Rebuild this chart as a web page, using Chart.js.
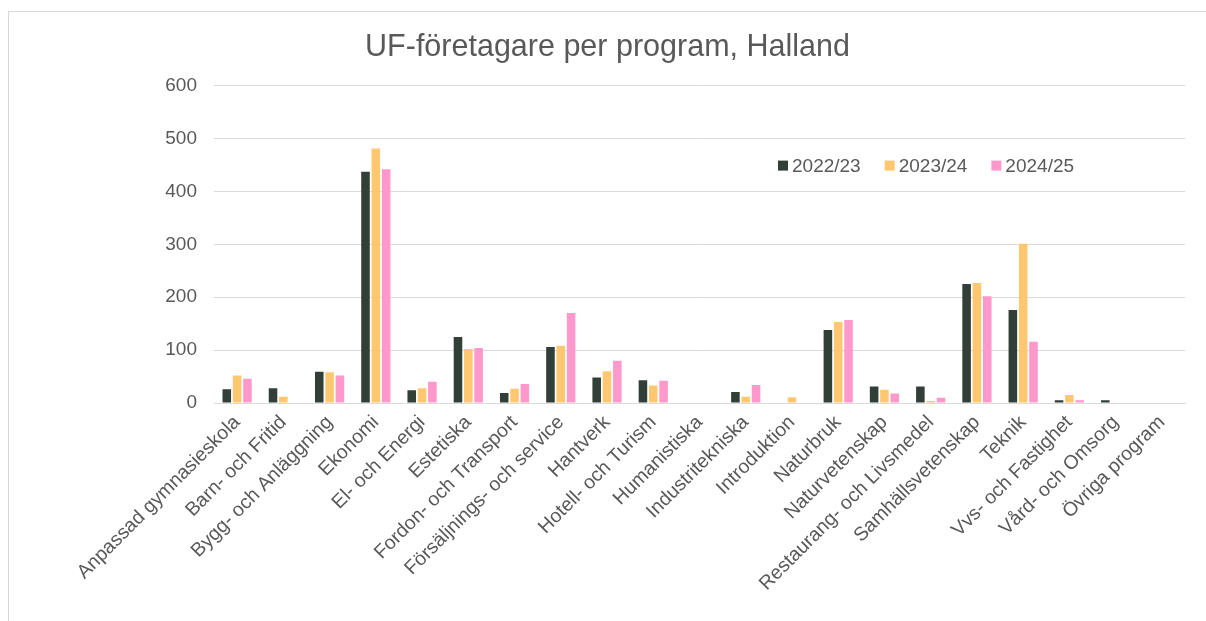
<!DOCTYPE html>
<html>
<head>
<meta charset="utf-8">
<script src="https://cdn.jsdelivr.net/npm/chart.js@4/dist/chart.umd.min.js"></script>
<style>
  html, body { margin: 0; padding: 0; background: #fff; overflow: hidden; }
  #frame {
    position: absolute; left: 8px; top: 11px;
    width: 1198px; height: 610px;
    border-top: 1px solid #d9d9d9; border-left: 1px solid #d9d9d9;
  }
  #chart { display: block; }
</style>
</head>
<body>
<div id="frame"><canvas id="chart" width="1197" height="609"></canvas></div>
<script>
const programs = [
  'Anpassad gymnasieskola', 'Barn- och Fritid', 'Bygg- och Anläggning', 'Ekonomi',
  'El- och Energi', 'Estetiska', 'Fordon- och Transport', 'Försäljnings- och service',
  'Hantverk', 'Hotell- och Turism', 'Humanistiska', 'Industritekniska', 'Introduktion',
  'Naturbruk', 'Naturvetenskap', 'Restaurang- och Livsmedel', 'Samhällsvetenskap',
  'Teknik', 'Vvs- och Fastighet', 'Vård- och Omsorg', 'Övriga program'
];
const years = ['2022/23', '2023/24', '2024/25'];
const values2223 = [26, 28, 59, 437, 24, 125, 19, 106, 48, 43, 0, 21, 0, 138, 31, 31, 225, 176, 5, 5, 0];
const values2324 = [52, 12, 58, 481, 28, 102, 27, 108, 60, 33, 0, 12, 11, 153, 25, 4, 227, 301, 15, 0, 0];
const values2425 = [46, 0, 52, 442, 40, 104, 36, 170, 80, 42, 0, 34, 0, 157, 18, 10, 202, 116, 5, 0, 0];
const yTicks = [0, 100, 200, 300, 400, 500, 600];

const COLORS = ['#323f38', '#ffc870', '#ff99cc'];
const TEXT = '#595959';
const FONT = '"Liberation Sans", Arial, sans-serif';

// legend drawn inside the plot, like the original
const innerLegend = {
  id: 'innerLegend',
  afterDraw(chart) {
    const { ctx, chartArea } = chart;
    let x = chartArea.left + 564;
    const y = chartArea.top + 80;
    ctx.save();
    ctx.font = '19px ' + FONT;
    ctx.textBaseline = 'middle';
    chart.data.datasets.forEach((ds) => {
      ctx.fillStyle = ds.backgroundColor;
      ctx.fillRect(x, y - 5, 10, 10);
      ctx.fillStyle = TEXT;
      ctx.fillText(ds.label, x + 14, y + 1);
      x += 14 + ctx.measureText(ds.label).width + 24;
    });
    ctx.restore();
  }
};

const data = [values2223, values2324, values2425];

new Chart(document.getElementById('chart'), {
  type: 'bar',
  data: {
    labels: programs,
    datasets: years.map((y, i) => ({
      label: y,
      data: data[i],
      backgroundColor: COLORS[i],
      borderWidth: 0,
      categoryPercentage: 0.67,
      barPercentage: 0.83
    }))
  },
  options: {
    responsive: false,
    animation: false,
    devicePixelRatio: 1,
    layout: { padding: 0 },
    plugins: {
      legend: { display: false },
      tooltip: { enabled: false },
      title: {
        display: true,
        text: 'UF-företagare per program, Halland',
        color: TEXT,
        font: { family: FONT, size: 30.5, weight: 'normal' },
        padding: { top: 17, bottom: 20 }
      }
    },
    scales: {
      x: {
        grid: { display: false, drawTicks: false },
        border: { display: true, color: '#d9d9d9', width: 1 },
        ticks: {
          color: TEXT,
          font: { family: FONT, size: 19.5 },
          autoSkip: false,
          minRotation: 45,
          maxRotation: 45,
          padding: 8
        },
        afterFit(scale) { scale.height = 218; }
      },
      y: {
        min: 0,
        max: 600,
        afterBuildTicks(scale) { scale.ticks = yTicks.map(v => ({ value: v })); },
        grid: { color: '#d9d9d9', drawTicks: false },
        border: { display: false },
        ticks: {
          color: TEXT,
          font: { family: FONT, size: 19 },
          padding: 17
        },
        afterFit(scale) { scale.width = 205; }
      },
      spacer: {
        position: 'right',
        display: true,
        grid: { display: false, drawTicks: false },
        border: { display: false },
        ticks: { display: false },
        afterFit(scale) { scale.width = 21; }
      }
    }
  },
  plugins: [innerLegend]
});
</script>
</body>
</html>
